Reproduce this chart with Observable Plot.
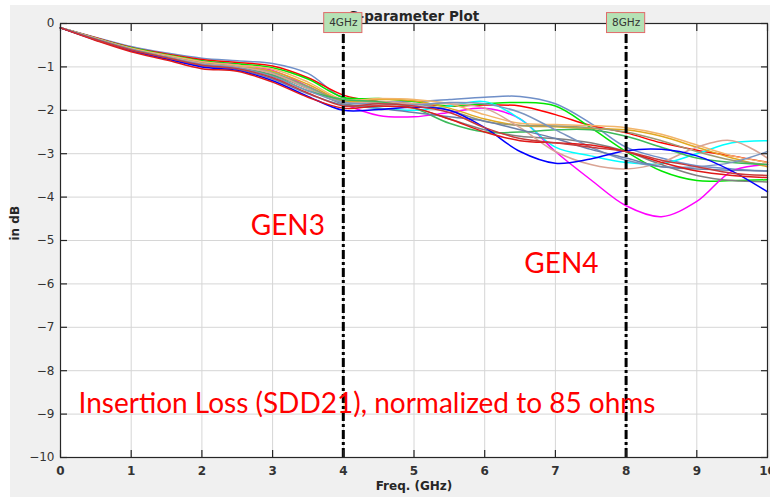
<!DOCTYPE html>
<html>
<head>
<meta charset="utf-8">
<script src="https://cdn.jsdelivr.net/npm/d3@7"></script>
<script src="https://cdn.jsdelivr.net/npm/@observablehq/plot@0.6"></script>
<style>
  html, body { margin: 0; padding: 0; background: #ffffff; }
  #wrap { position: relative; width: 770px; height: 501px; overflow: hidden; }
  #bg { position: absolute; left: 10px; top: 5px; width: 760px; height: 492px; background: #f0f0f0; }
  #chart { position: absolute; left: 0; top: 0; }
</style>
</head>
<body>
<div id="wrap"><div id="bg"></div><div id="chart"></div></div>
<script>
// ---- data ----
const freq = [0, 0.5, 1, 1.5, 2, 2.5, 3, 3.5, 4, 4.5, 5, 5.5, 6, 6.5, 7, 7.5, 8, 8.5, 9, 9.5, 10];

const sSteel1  = [-0.1,-0.32,-0.53,-0.68,-0.80,-0.86,-0.92,-1.15,-1.72,-1.80,-1.80,-1.75,-1.70,-1.68,-1.85,-2.30,-2.85,-3.10,-3.28,-3.35,-3.40];
const sRed1    = [-0.1,-0.33,-0.55,-0.70,-0.83,-0.90,-0.98,-1.25,-1.65,-1.80,-1.85,-1.90,-1.88,-1.90,-2.10,-2.35,-2.52,-2.75,-2.92,-3.05,-3.20];
const sGreen   = [-0.1,-0.34,-0.56,-0.72,-0.86,-0.93,-1.02,-1.28,-1.70,-1.73,-1.80,-1.90,-1.85,-1.82,-1.90,-2.40,-2.95,-3.40,-3.62,-3.62,-3.60];
const sMagenta = [-0.1,-0.35,-0.58,-0.74,-0.88,-0.96,-1.08,-1.45,-1.85,-2.12,-2.15,-2.05,-1.95,-2.20,-2.95,-3.60,-4.20,-4.45,-4.10,-3.40,-3.25];
const sCyan    = [-0.1,-0.35,-0.58,-0.75,-0.90,-0.98,-1.12,-1.48,-1.85,-1.95,-2.00,-1.90,-1.80,-2.20,-2.85,-3.05,-3.20,-3.23,-3.00,-2.75,-2.70];
const sGold    = [-0.1,-0.35,-0.58,-0.75,-0.90,-0.99,-1.10,-1.40,-1.78,-1.75,-1.78,-1.95,-2.20,-2.35,-2.38,-2.42,-2.45,-2.60,-2.85,-3.10,-3.30];
const sOrange  = [-0.1,-0.34,-0.57,-0.73,-0.88,-0.96,-1.05,-1.35,-1.75,-1.73,-1.75,-1.85,-2.10,-2.30,-2.33,-2.35,-2.40,-2.55,-2.80,-3.05,-3.20];
const sGray    = [-0.1,-0.36,-0.60,-0.77,-0.93,-1.02,-1.18,-1.50,-1.85,-1.90,-1.95,-2.20,-2.45,-2.60,-2.65,-2.75,-2.95,-3.25,-3.50,-3.62,-3.65];
const sOlive   = [-0.1,-0.35,-0.59,-0.76,-0.91,-1.00,-1.14,-1.45,-1.80,-1.82,-1.85,-2.00,-2.25,-2.35,-2.36,-2.40,-2.50,-2.70,-2.95,-3.15,-3.25];
const sSalmon  = [-0.1,-0.35,-0.59,-0.76,-0.92,-1.00,-1.15,-1.50,-1.82,-1.80,-1.85,-1.85,-1.95,-2.40,-2.95,-3.25,-3.35,-3.20,-2.85,-2.70,-3.10];
const sMGreen  = [-0.1,-0.36,-0.60,-0.78,-0.95,-1.03,-1.20,-1.55,-1.75,-1.80,-1.95,-2.30,-2.50,-2.50,-2.45,-2.45,-2.60,-2.85,-3.10,-3.20,-3.25];
const sSteel2  = [-0.1,-0.36,-0.60,-0.78,-0.94,-1.02,-1.22,-1.55,-1.82,-1.85,-1.88,-1.82,-1.85,-2.05,-2.45,-2.85,-3.15,-3.30,-3.30,-3.20,-2.95];
const sSteel3  = [-0.1,-0.37,-0.62,-0.80,-0.98,-1.06,-1.28,-1.62,-1.88,-1.95,-2.05,-2.15,-2.25,-2.45,-2.65,-2.90,-3.10,-3.30,-3.35,-3.38,-3.40];
const sBlue    = [-0.1,-0.38,-0.63,-0.82,-1.00,-1.08,-1.32,-1.68,-2.00,-1.98,-1.93,-2.00,-2.40,-2.95,-3.22,-3.12,-2.93,-2.90,-3.05,-3.40,-3.88];
const sRed2    = [-0.1,-0.39,-0.65,-0.84,-1.04,-1.10,-1.35,-1.70,-1.95,-1.90,-1.95,-2.20,-2.50,-2.70,-2.75,-2.80,-2.95,-3.20,-3.40,-3.50,-3.55];
const sRed3    = [-0.1,-0.37,-0.61,-0.79,-0.96,-1.04,-1.25,-1.60,-1.90,-1.85,-1.90,-2.05,-2.40,-2.65,-2.75,-2.85,-2.95,-3.15,-3.30,-3.45,-3.50];

const seriesNames  = ["steel1","red1","green","magenta","cyan","gold","orange","gray","olive","salmon","mgreen","steel2","steel3","blue","red2","red3"];
const seriesValues = [sSteel1,sRed1,sGreen,sMagenta,sCyan,sGold,sOrange,sGray,sOlive,sSalmon,sMGreen,sSteel2,sSteel3,sBlue,sRed2,sRed3];

const xTicks = [0,1,2,3,4,5,6,7,8,9,10];
const yTicks = [0,-1,-2,-3,-4,-5,-6,-7,-8,-9,-10];

const markerFreqs  = [4, 8];
const markerLabels = ["4GHz", "8GHz"];

const noteTexts = ["GEN3", "GEN4", "Insertion Loss (SDD21), normalized to 85 ohms"];
const noteX     = [2.69, 6.56, 0.255];
const noteY     = [-4.87, -5.75, -8.97];

const titleText = "S-parameter Plot";
const xLabel = "Freq. (GHz)";
const yLabel = "in dB";

// ---- styles ----
const seriesColors = ["#6f8fc8","#ff0000","#00e600","#ff00ff","#00ffff","#e0a820","#f2b46a","#808080","#9c9a72","#d9a494","#3cb95a","#7a94c0","#6a7fa8","#0000ff","#e01818","#c83a3a"];

// ---- build tables ----
const rows = [];
seriesNames.forEach((name, s) => {
  freq.forEach((f, i) => rows.push({series: name, freq: f, dB: seriesValues[s][i]}));
});
const markers = markerFreqs.map((f, i) => ({freq: f, label: markerLabels[i]}));
const notes = noteTexts.map((t, i) => ({text: t, x: noteX[i], y: noteY[i]}));

const axisFont = "DejaVu Sans, sans-serif";
const boxHalf = 0.27;

const chart = Plot.plot({
  width: 770,
  height: 501,
  marginLeft: 60,
  marginRight: 3,
  marginTop: 23,
  marginBottom: 44,
  style: {background: "transparent", color: "#262626", fontFamily: axisFont, fontSize: "12px"},
  x: {domain: [0, 10]},
  y: {domain: [-10, 0]},
  color: {domain: seriesNames, range: seriesColors},
  marks: [
    Plot.frame({fill: "white", stroke: null}),
    Plot.gridX(xTicks, {stroke: "#d6d6d6", strokeOpacity: 1}),
    Plot.gridY(yTicks, {stroke: "#d6d6d6", strokeOpacity: 1}),
    Plot.line(rows, {x: "freq", y: "dB", z: "series", stroke: "series", strokeWidth: 1.5, curve: "catmull-rom"}),
    Plot.ruleX(markers, {x: "freq", y1: -10, y2: 0, stroke: "black", strokeWidth: 3, strokeDasharray: "9,3,3,3"}),
    Plot.frame({stroke: "#262626", strokeWidth: 1.2}),
    // inward ticks
    Plot.axisX(xTicks, {anchor: "bottom", tickSize: 7, insetBottom: 7, text: null, label: null, strokeWidth: 1.2}),
    Plot.axisX(xTicks, {anchor: "top", tickSize: 7, insetTop: 7, text: null, label: null, strokeWidth: 1.2}),
    Plot.axisY(yTicks, {anchor: "left", tickSize: 7, insetLeft: 7, text: null, label: null, strokeWidth: 1.2}),
    Plot.axisY(yTicks, {anchor: "right", tickSize: 7, insetRight: 7, text: null, label: null, strokeWidth: 1.2}),
    // tick labels
    Plot.axisX(xTicks, {anchor: "bottom", tickSize: 0, tickPadding: 9, label: null, fontSize: 12, fontWeight: "bold", fill: "#333"}),
    Plot.axisY(yTicks, {anchor: "left", tickSize: 0, tickPadding: 6, label: null, fontSize: 12, fill: "#333"}),
    // axis titles
    Plot.text([xLabel], {frameAnchor: "bottom", dy: 32, fontWeight: "bold", fontSize: 12, fill: "#262626"}),
    Plot.text([yLabel], {frameAnchor: "left", dx: -45, rotate: -90, fontWeight: "bold", fontSize: 12, fill: "#262626"}),
    Plot.text([titleText], {frameAnchor: "top", dy: -12, fontWeight: "bold", fontSize: 13.5, fill: "#262626"}),
    // marker labels
    Plot.rect(markers, {x1: d => d.freq - boxHalf, x2: d => d.freq + boxHalf, y1: -0.22, y2: 0.24, fill: "#b5e2b5", stroke: "#e06a6a", strokeWidth: 1}),
    Plot.text(markers, {x: "freq", y: 0.01, text: "label", fontSize: 10.5, fill: "#333"}),
    // annotations
    Plot.text(notes, {x: "x", y: "y", text: "text", fill: "#ff0000", fontFamily: "Lato, sans-serif", fontSize: 28, textAnchor: "start", lineAnchor: "bottom"})
  ]
});
document.getElementById("chart").appendChild(chart);
</script>
</body>
</html>
